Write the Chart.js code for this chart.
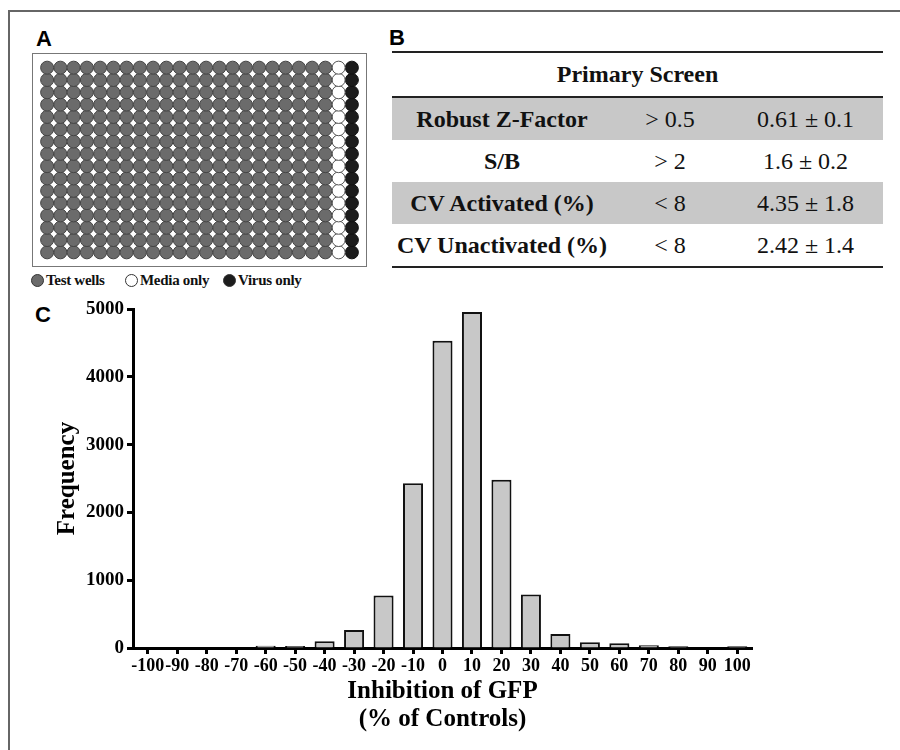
<!DOCTYPE html>
<html>
<head>
<meta charset="utf-8">
<script src="https://cdn.jsdelivr.net/npm/chart.js@4.4.1/dist/chart.umd.min.js"></script>
<style>
  body { margin: 0; background: #fff; width: 900px; height: 750px; overflow: hidden; position: relative; font-family: "Liberation Serif", "Times New Roman", serif; }
  .frame { position: absolute; left: 8px; top: 10px; width: 900px; height: 760px; border-left: 2px solid #666; border-top: 2px solid #666; }
  .panel-label { position: absolute; font: bold 22px/22px "Liberation Sans", Arial, sans-serif; color: #000; }
  #plateBox { position: absolute; left: 32px; top: 53px; width: 335px; height: 214px; border: 1px solid #777; box-sizing: border-box; }
  .legend-item { position: absolute; top: 272px; display: flex; align-items: center; font: bold 15px "Liberation Serif", serif; letter-spacing: -0.3px; color: #111; }
  .legend-item .dot { width: 11px; height: 11px; border-radius: 50%; border: 1px solid #333; margin-right: 2px; }
  #tableB { position: absolute; left: 392px; top: 51px; width: 491px; border-collapse: collapse; font-size: 24px; color: #111; }
  #tableB th { height: 43px; font-weight: bold; text-align: center; border-top: 2px solid #222; border-bottom: 2px solid #222; padding: 0; }
  #tableB td { height: 42px; text-align: center; padding: 0; }
  #tableB tr.shade td { background: #c8c8c8; }
  #tableB tr:last-child td { border-bottom: 2px solid #222; }
  #tableB td.name { font-weight: bold; width: 220px; }
  #tableB td.thr { width: 116px; }
  #histWrap { position: absolute; left: 0; top: 290px; width: 900px; height: 460px; }
</style>
</head>
<body>
<div class="frame"></div>

<div class="panel-label" style="left:36px; top:28px;">A</div>
<div id="plateBox"><canvas id="plate" width="333" height="212"></canvas></div>
<div class="legend-item" style="left:31px;"><span class="dot" style="background:#6b6b6b;"></span>Test wells</div>
<div class="legend-item" style="left:125px;"><span class="dot" style="background:#fff;"></span>Media only</div>
<div class="legend-item" style="left:223px;"><span class="dot" style="background:#1c1c1c;"></span>Virus only</div>

<div class="panel-label" style="left:389px; top:27px;">B</div>
<table id="tableB"></table>

<div class="panel-label" style="left:35px; top:304px;">C</div>
<div id="histWrap"><canvas id="hist" width="900" height="460"></canvas></div>

<script>
// plate layout (384 wells)
const plateRows = ['A', 'B', 'C', 'D', 'E', 'F', 'G', 'H', 'I', 'J', 'K', 'L', 'M', 'N', 'O', 'P'];
const plateCols = ['1', '2', '3', '4', '5', '6', '7', '8', '9', '10', '11', '12',
  '13', '14', '15', '16', '17', '18', '19', '20', '21', '22', '23', '24'];
const testWellCols = ['1', '2', '3', '4', '5', '6', '7', '8', '9', '10', '11',
  '12', '13', '14', '15', '16', '17', '18', '19', '20', '21', '22'];
const mediaOnlyCols = ['23'];
const virusOnlyCols = ['24'];

// table B
const tableTitle = 'Primary Screen';
const metricNames = ['Robust Z-Factor', 'S/B', 'CV Activated (%)', 'CV Unactivated (%)'];
const thresholds = ['> 0.5', '> 2', '< 8', '< 8'];
const observed = ['0.61 ± 0.1', '1.6 ± 0.2', '4.35 ± 1.8', '2.42 ± 1.4'];

// histogram C
const inhibitionBins = ['-100', '-90', '-80', '-70', '-60', '-50', '-40', '-30', '-20', '-10', '0',
  '10', '20', '30', '40', '50', '60', '70', '80', '90', '100'];
const frequency = [0, 0, 0, 0, 35, 30, 100, 265, 775, 2430, 4530,
  4955, 2480, 790, 207, 84, 69, 40, 25, 0, 25];
const yTicks = [0, 1000, 2000, 3000, 4000, 5000];

const serif = "'Liberation Serif', 'Times New Roman', serif";

function wells(cols) {
  const pts = [];
  cols.forEach(c => plateRows.forEach(r => pts.push({ x: c, y: r })));
  return pts;
}

new Chart(document.getElementById('plate').getContext('2d'), {
  type: 'scatter',
  data: {
    datasets: [
      { label: 'Test wells', data: wells(testWellCols), backgroundColor: '#6b6b6b', borderColor: '#444' },
      { label: 'Media only', data: wells(mediaOnlyCols), backgroundColor: '#ffffff', borderColor: '#555' },
      { label: 'Virus only', data: wells(virusOnlyCols), backgroundColor: '#1c1c1c', borderColor: '#111' }
    ]
  },
  options: {
    responsive: false,
    animation: false,
    layout: { padding: 4 },
    elements: { point: { radius: 6.5, borderWidth: 1, hoverRadius: 6.5 } },
    plugins: { legend: { display: false }, tooltip: { enabled: false } },
    scales: {
      x: { type: 'category', labels: plateCols, offset: true, display: false },
      y: { type: 'category', labels: plateRows, offset: true, reverse: true, display: false }
    }
  }
});

const table = document.getElementById('tableB');
let html = '<tr><th colspan="3">' + tableTitle + '</th></tr>';
metricNames.forEach((name, i) => {
  html += '<tr class="' + (i % 2 === 0 ? 'shade' : '') + '"><td class="name">' + name +
    '</td><td class="thr">' + thresholds[i].replace('<', '&lt;').replace('>', '&gt;') +
    '</td><td>' + observed[i] + '</td></tr>';
});
table.innerHTML = html;

const tickFont = { family: serif, weight: 'bold', size: 18 };

new Chart(document.getElementById('hist').getContext('2d'), {
  type: 'bar',
  data: {
    labels: inhibitionBins,
    datasets: [{
      data: frequency,
      backgroundColor: '#c8c8c8',
      borderColor: '#111',
      borderWidth: 2,
      borderSkipped: 'start',
      barPercentage: 0.68,
      categoryPercentage: 1
    }]
  },
  options: {
    responsive: false,
    animation: false,
    layout: { padding: { left: 0, right: 148, top: 19, bottom: 0 } },
    plugins: { legend: { display: false }, tooltip: { enabled: false } },
    scales: {
      x: {
        offset: true,
        grid: { offset: false, drawOnChartArea: false, tickLength: 6, tickWidth: 3, tickColor: '#000' },
        border: { color: '#000', width: 3 },
        ticks: { color: '#000', font: tickFont, padding: 2, maxRotation: 0, autoSkip: false },
        title: {
          display: true,
          text: ['Inhibition of GFP', '(% of Controls)'],
          color: '#000',
          font: { family: serif, weight: 'bold', size: 25, lineHeight: 1.12 },
          padding: { top: 0, bottom: 16 }
        },
        afterFit(scale) { scale.height = 102; }
      },
      y: {
        min: 0,
        max: 5000,
        afterBuildTicks(scale) { scale.ticks = yTicks.map(v => ({ value: v })); },
        grid: { drawOnChartArea: false, tickLength: 6, tickWidth: 3, tickColor: '#000' },
        border: { color: '#000', width: 3 },
        ticks: { color: '#000', font: { family: serif, weight: 'bold', size: 19 }, padding: 3, callback: v => String(v) },
        title: {
          display: true,
          text: 'Frequency',
          color: '#000',
          font: { family: serif, weight: 'bold', size: 25 },
          padding: { top: 53 }
        },
        afterFit(scale) { scale.width = 133; }
      }
    }
  }
});
</script>
</body>
</html>
